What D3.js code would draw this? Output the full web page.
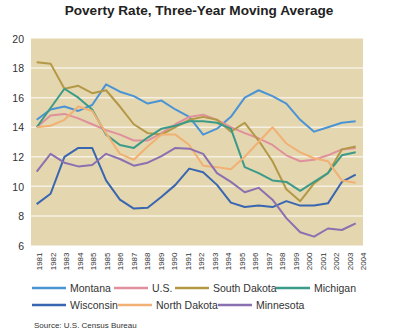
<!DOCTYPE html>
<html>
<head>
<meta charset="utf-8">
<script src="https://cdn.jsdelivr.net/npm/d3@7"></script>
<style>
  body { margin: 0; background: #fff; }
  text { font-family: "Liberation Sans", Arial, sans-serif; fill: #333; }
</style>
</head>
<body>
<svg width="400" height="332"></svg>
<script>
// tick labels as printed (the original repeats 1985)
const yearLabels = ["1981","1982","1983","1984","1985","1985","1986","1987","1988","1989","1990",
  "1991","1992","1993","1994","1995","1996","1997","1998","1999","2000","2001","2002","2003","2004"];

const montana     = [14.5, 15.2, 15.4, 15.1, 15.5, 16.9, 16.4, 16.1, 15.6, 15.8, 15.2, 14.7, 13.5, 13.9, 14.7, 16.0, 16.5, 16.1, 15.6, 14.5, 13.7, 14.0, 14.3, 14.4];
const us          = [14.0, 14.8, 14.9, 14.6, 14.2, 13.8, 13.5, 13.1, 13.1, 13.6, 14.2, 14.7, 14.85, 14.5, 14.0, 13.6, 13.25, 12.8, 12.1, 11.7, 11.8, 12.1, 12.5, 12.6];
const southDakota = [18.4, 18.3, 16.6, 16.8, 16.3, 16.5, 15.4, 14.2, 13.6, 13.5, 14.0, 14.5, 14.7, 14.5, 13.7, 14.3, 13.1, 11.7, 9.8, 9.0, 10.2, 10.9, 12.5, 12.7];
const michigan    = [14.0, 15.3, 16.6, 16.0, 15.2, 13.5, 12.8, 12.6, 13.3, 13.9, 14.1, 14.4, 14.4, 14.3, 13.9, 11.3, 10.9, 10.4, 10.3, 9.7, 10.3, 10.9, 12.1, 12.3];
const wisconsin   = [8.8, 9.5, 12.0, 12.6, 12.6, 10.4, 9.1, 8.5, 8.55, 9.3, 10.1, 11.2, 10.95, 10.1, 8.9, 8.6, 8.7, 8.6, 9.0, 8.7, 8.7, 8.85, 10.3, 10.8];
const northDakota = [14.0, 14.1, 14.5, 15.4, 15.1, 13.6, 12.2, 11.8, 12.7, 13.5, 13.5, 12.8, 11.4, 11.3, 11.15, 12.0, 13.0, 14.0, 12.9, 12.3, 11.9, 11.7, 10.4, 10.25];
const minnesota   = [11.0, 12.2, 11.6, 11.35, 11.45, 12.2, 11.85, 11.4, 11.6, 12.05, 12.6, 12.55, 12.2, 10.9, 10.3, 9.6, 9.9, 9.1, 7.85, 6.9, 6.6, 7.15, 7.05, 7.5];

const yTicks = [6, 8, 10, 12, 14, 16, 18, 20];

const series = [
  { name: "Montana", values: montana, color: "#4a94d6" },
  { name: "U.S.", values: us, color: "#e0909c" },
  { name: "South Dakota", values: southDakota, color: "#b39846" },
  { name: "Michigan", values: michigan, color: "#3b9a88" },
  { name: "Wisconsin", values: wisconsin, color: "#3866b0" },
  { name: "North Dakota", values: northDakota, color: "#f2b174" },
  { name: "Minnesota", values: minnesota, color: "#8a70b0" }
];

const svg = d3.select("svg");
const plot = { left: 31, right: 363, top: 38.5, bottom: 245.5 };

const y = d3.scaleLinear().domain([6, 20]).range([plot.bottom, plot.top]);
const x = d3.scaleLinear().domain([0, montana.length - 1]).range([36.7, 355.7]);
const xLab = d3.scalePoint().domain(d3.range(yearLabels.length)).range([39, 363]);

// title
svg.append("text")
  .attr("x", 199).attr("y", 15)
  .attr("text-anchor", "middle")
  .style("font-weight", "bold")
  .style("font-size", "13.6px")
  .style("fill", "#222")
  .text("Poverty Rate, Three-Year Moving Average");

// plot background
svg.append("rect")
  .attr("x", plot.left).attr("y", plot.top)
  .attr("width", plot.right - plot.left).attr("height", plot.bottom - plot.top)
  .attr("fill", "#e4d6ae");

// grid
svg.append("g").selectAll("line")
  .data(yTicks.filter(d => d > 6 && d < 20))
  .join("line")
  .attr("x1", plot.left).attr("x2", plot.right)
  .attr("y1", d => y(d)).attr("y2", d => y(d))
  .attr("stroke", "#f6f0e2").attr("stroke-width", 1.5);

// y axis
svg.append("g")
  .attr("transform", `translate(24,0)`)
  .call(d3.axisLeft(y).tickValues(yTicks).tickSize(0).tickPadding(0))
  .call(g => g.select(".domain").remove())
  .call(g => g.selectAll("text").style("font-size", "10.5px").attr("dy", "0.35em"));

// x axis
svg.append("g")
  .attr("transform", `translate(0,${plot.bottom + 5})`)
  .call(d3.axisBottom(xLab).tickSize(0).tickFormat(i => yearLabels[i]))
  .call(g => g.select(".domain").remove())
  .call(g => g.selectAll("text")
    .style("font-size", "8px")
    .attr("text-anchor", "end")
    .attr("transform", "rotate(-90)")
    .attr("x", -2).attr("y", 0).attr("dy", "0.32em"));

// lines
const line = d3.line().x((d, i) => x(i)).y(d => y(d));
svg.append("g").selectAll("path")
  .data(series)
  .join("path")
  .attr("d", d => line(d.values))
  .attr("fill", "none")
  .attr("stroke", d => d.color)
  .attr("stroke-width", 2)
  .attr("stroke-linejoin", "round");

// legend
const legendPos = [
  [32, 288], [114, 288], [175, 288], [276, 288],
  [32, 305], [118, 305], [218, 305]
];
const lg = svg.append("g").selectAll("g")
  .data(series)
  .join("g")
  .attr("transform", (d, i) => `translate(${legendPos[i][0]},${legendPos[i][1]})`);
lg.append("line")
  .attr("x1", 0).attr("x2", 34)
  .attr("stroke", d => d.color).attr("stroke-width", 2.5);
lg.append("text")
  .attr("x", 38).attr("dy", "0.35em")
  .style("font-size", "10.5px")
  .text(d => d.name);

svg.append("text")
  .attr("x", 34).attr("y", 328)
  .style("font-size", "8px")
  .text("Source: U.S. Census Bureau");
</script>
</body>
</html>
